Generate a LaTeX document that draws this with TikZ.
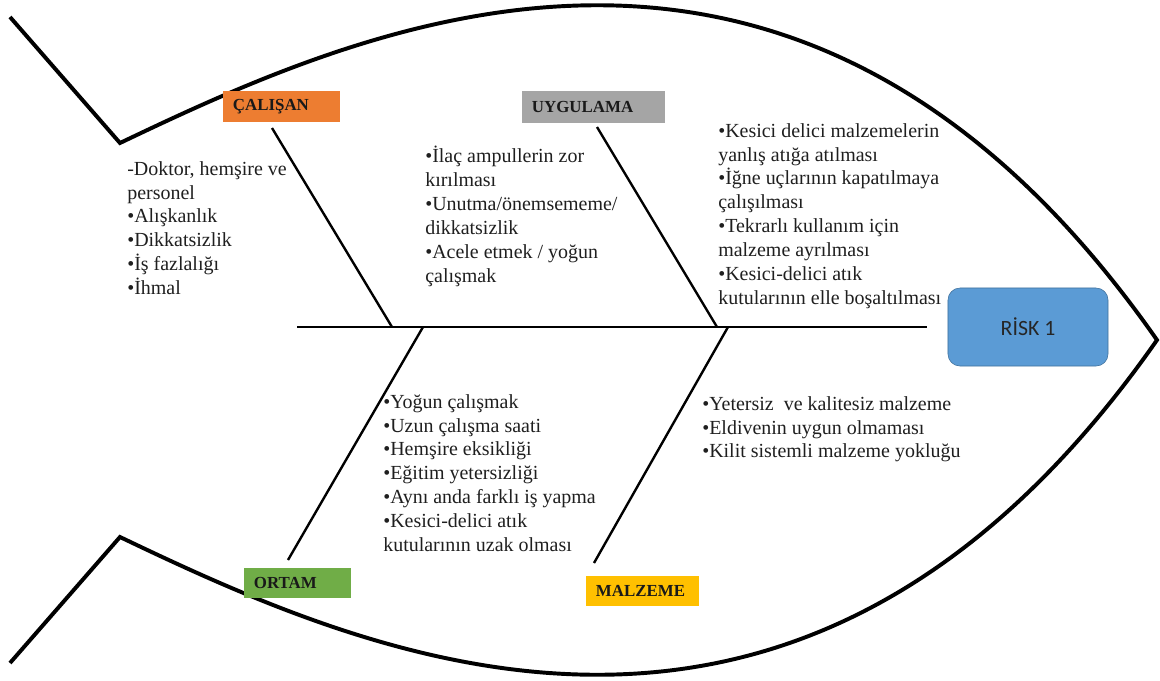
\documentclass[tikz,border=0pt]{standalone}
\usepackage{fontspec}
\setmainfont{Liberation Serif}
\newfontfamily\riskfont{Carlito}
\usetikzlibrary{calc}
\definecolor{calorange}{RGB}{237,125,49}
\definecolor{uyggray}{RGB}{165,165,165}
\definecolor{ortgreen}{RGB}{112,173,71}
\definecolor{malgold}{RGB}{255,192,0}
\definecolor{riskblue}{RGB}{91,155,213}
\definecolor{riskedge}{RGB}{65,113,156}

\begin{document}
\begin{tikzpicture}[x=0.025cm, y=-0.025cm,
  fishline/.style={line width=2.8pt, line join=miter},
  bone/.style={line width=1.7pt},
  catbox/.style={inner xsep=0.25cm, inner ysep=0pt, align=left,
    font=\fontsize{12}{14}\selectfont\bfseries, text=black!90},
  causes/.style={anchor=north west, inner sep=0pt, align=left,
    font=\rmfamily\fontsize{14.2}{17}\selectfont, text=black!88}]

  \useasboundingbox (0,0) rectangle (1160,680);

  % Fish outline
  \draw[fishline] (10,17) -- (120,143)
    .. controls (373,22) and (801,-169) .. (1157,340)
    .. controls (801,849) and (373,658) .. (120,537) -- (10,663);

  % Head
  \node[draw=riskedge, fill=riskblue, rounded corners=0.3cm,
    minimum width=4cm, minimum height=1.95cm,
    font=\riskfont\fontsize{15.5}{18}\selectfont, text=black!85] (risk) at (1028,327) {RİSK 1};

  % Spine
  \coordinate (tail) at (297,327);
  \draw[line width=2pt] (tail) -- ([xshift=-0.525cm]risk.west);

  % Bones
  \coordinate (calTop) at (272,128);
  \coordinate (calFoot) at (392,327);
  \coordinate (uygTop) at (597,127);
  \coordinate (uygFoot) at (717,327);
  \coordinate (ortEnd) at (288,560);
  \coordinate (ortFoot) at (423,327);
  \coordinate (malEnd) at (594,563);
  \coordinate (malFoot) at (728,327);
  \draw[bone] (calTop) -- (calFoot);
  \draw[bone] (uygTop) -- (uygFoot);
  \draw[bone] (ortEnd) -- (ortFoot);
  \draw[bone] (malEnd) -- (malFoot);

  % Category labels
  \node[catbox, fill=calorange, text width=2.425cm, minimum height=0.775cm] (calisan) at (281.5,106.5) {ÇALIŞAN};
  \node[catbox, fill=uyggray, text width=3.075cm, minimum height=0.8cm] (uygulama) at (593.5,107) {UYGULAMA};
  \node[catbox, fill=ortgreen, text width=2.175cm, minimum height=0.75cm] (ortam) at (297.5,583) {ORTAM};
  \node[catbox, fill=malgold, text width=2.325cm, minimum height=0.75cm] (malzeme) at (642.5,591) {MALZEME};

  % Causes
  \node[causes] (calList) at (127,161) {-Doktor, hemşire ve\\personel\\•Alışkanlık\\•Dikkatsizlik\\•İş fazlalığı\\•İhmal};
  \node[causes] (uygList) at (425,146) {•İlaç ampullerin zor\\kırılması\\•Unutma/önemsememe/\\dikkatsizlik\\•Acele etmek / yoğun\\çalışmak};
  \node[causes] (uygList2) at (718,123) {•Kesici delici malzemelerin\\yanlış atığa atılması\\•İğne uçlarının kapatılmaya\\çalışılması\\•Tekrarlı kullanım için\\malzeme ayrılması\\•Kesici-delici atık\\kutularının elle boşaltılması};
  \node[causes] (ortList) at (383,394) {•Yoğun çalışmak\\•Uzun çalışma saati\\•Hemşire eksikliği\\•Eğitim yetersizliği\\•Aynı anda farklı iş yapma\\•Kesici-delici atık\\kutularının uzak olması};
  \node[causes] (malList) at (702,396) {•Yetersiz\ \ ve kalitesiz malzeme\\•Eldivenin uygun olmaması\\•Kilit sistemli malzeme yokluğu};
\end{tikzpicture}
\end{document}
